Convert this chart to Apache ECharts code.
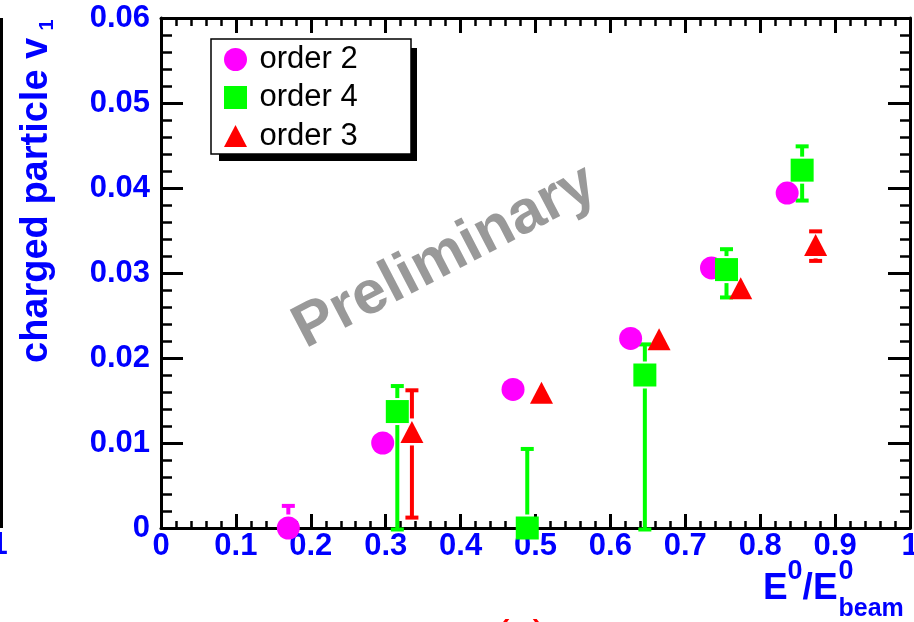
<!DOCTYPE html>
<html>
<head>
<meta charset="utf-8">
<script src="https://cdn.jsdelivr.net/npm/echarts@6/dist/echarts.min.js"></script>
<style>
  html, body { margin: 0; padding: 0; background: #fff; }
  #chart { width: 914px; height: 622px; }
</style>
</head>
<body>
<div id="chart"></div>
<script>
// ---------- data ----------
const xTicks = [0, 0.1, 0.2, 0.3, 0.4, 0.5, 0.6, 0.7, 0.8, 0.9, 1];
const yTicks = [0, 0.01, 0.02, 0.03, 0.04, 0.05, 0.06];

// order 2 (magenta circles)
const xOrder2  = [0.170, 0.296, 0.470, 0.627, 0.735, 0.836];
const yOrder2  = [0.0000, 0.0100, 0.0163, 0.0223, 0.0306, 0.0394];
const hiOrder2 = [0.0026, null, null, null, null, null];
const loOrder2 = [null, null, null, null, null, null];

// order 4 (green squares)
const xOrder4  = [0.3155, 0.489, 0.646, 0.755, 0.856];
const yOrder4  = [0.0137, 0.0000, 0.0180, 0.0304, 0.0421];
const hiOrder4 = [0.0167, 0.0093, 0.0216, 0.0328, 0.0449];
const loOrder4 = [0.0000, null, 0.0000, 0.0273, 0.0387];

// order 3 (red triangles)
const xOrder3  = [0.335, 0.508, 0.665, 0.774, 0.874];
const yOrder3  = [0.0113, 0.0159, 0.0222, 0.0282, 0.0333];
const hiOrder3 = [0.0162, null, null, null, 0.0349];
const loOrder3 = [0.0014, null, null, null, 0.0316];

const seriesNames = ['order 2', 'order 4', 'order 3'];

// ---------- helpers ----------
const FONT = '"Liberation Sans", Arial, Helvetica, sans-serif';
const BLUE = '#0000ff';
const MAG = '#ff00ff', GRN = '#00ff00', RED = '#ff0000';
const MARK = 23;

function pts(xs, ys) { return xs.map((x, i) => [x, ys[i]]); }
function errPts(xs, ys, hi, lo) {
  const out = [];
  xs.forEach((x, i) => {
    if (hi[i] == null && lo[i] == null) return;
    out.push([x, ys[i], hi[i] == null ? ys[i] : hi[i], lo[i] == null ? ys[i] : lo[i]]);
  });
  return out;
}
function errSeries(data, color) {
  return {
    type: 'custom',
    clip: false,
    data: data,
    encode: { x: 0, y: 1 },
    silent: true,
    renderItem: function (params, api) {
      const c = api.coord([api.value(0), api.value(1)]);
      const hi = api.coord([api.value(0), api.value(2)]);
      const lo = api.coord([api.value(0), api.value(3)]);
      const half = MARK / 2 + 2;
      const cap = 6.5;
      const st = { stroke: color, lineWidth: 4, lineCap: 'butt' };
      const ch = [];
      if (hi[1] < c[1] - half) {
        ch.push({ type: 'line', shape: { x1: c[0], y1: c[1] - half, x2: c[0], y2: hi[1] }, style: st });
        ch.push({ type: 'line', shape: { x1: c[0] - cap, y1: hi[1], x2: c[0] + cap, y2: hi[1] }, style: st });
      }
      if (lo[1] > c[1] + half) {
        ch.push({ type: 'line', shape: { x1: c[0], y1: c[1] + half, x2: c[0], y2: lo[1] }, style: st });
        ch.push({ type: 'line', shape: { x1: c[0] - cap, y1: lo[1] + 1.5, x2: c[0] + cap, y2: lo[1] + 1.5 }, style: st });
      }
      return { type: 'group', children: ch };
    }
  };
}

function axisCommon(tickLen, minorLen) {
  return {
    axisLine: { show: true, onZero: false, lineStyle: { color: '#000', width: 3 } },
    axisTick: { show: true, inside: true, length: tickLen, lineStyle: { color: '#000', width: 3 } },
    minorTick: { show: true, splitNumber: 5, length: minorLen, lineStyle: { color: '#000', width: 2.5 } },
    splitLine: { show: false },
    minorSplitLine: { show: false }
  };
}

const chart = echarts.init(document.getElementById('chart'), null, { renderer: 'canvas' });

const txt = (x, y, text, font, fill, align, extra) => Object.assign({
  type: 'text', x: x, y: y,
  style: { text: text, font: font, fill: fill, align: align, verticalAlign: 'middle', textAlign: align, textVerticalAlign: 'middle' }
}, extra || {});

const option = {
  backgroundColor: '#fff',
  animation: false,
  grid: { left: 161, right: 4, top: 18, bottom: 94, containLabel: false, outerBoundsMode: 'none' },
  xAxis: [
    Object.assign({
      type: 'value', position: 'bottom', min: xTicks[0], max: xTicks[xTicks.length - 1], interval: 0.1,
      axisLabel: {
        show: true, color: BLUE, fontSize: 31, fontWeight: 'bold', fontFamily: FONT, margin: 3,
        showMinLabel: true, showMaxLabel: true,
        formatter: v => { const t = xTicks.find(k => Math.abs(k - v) < 1e-9); return t === undefined ? '' : String(t); }
      }
    }, axisCommon(14, 7)),
    Object.assign({
      type: 'value', position: 'top', min: xTicks[0], max: xTicks[xTicks.length - 1], interval: 0.1,
      axisLabel: { show: false }
    }, axisCommon(15, 8))
  ],
  yAxis: [
    Object.assign({
      type: 'value', position: 'left', min: yTicks[0], max: yTicks[yTicks.length - 1], interval: 0.01,
      axisLabel: {
        show: true, color: BLUE, fontSize: 31, fontWeight: 'bold', fontFamily: FONT, margin: 11,
        showMinLabel: true, showMaxLabel: true,
        formatter: v => { const t = yTicks.find(k => Math.abs(k - v) < 1e-9); return t === undefined ? '' : (t === 0 ? '0' : t.toFixed(2)); }
      }
    }, axisCommon(22, 11)),
    Object.assign({
      type: 'value', position: 'right', min: yTicks[0], max: yTicks[yTicks.length - 1], interval: 0.01,
      axisLabel: { show: false }
    }, axisCommon(22, 10))
  ],
  series: [
    errSeries(errPts(xOrder2, yOrder2, hiOrder2, loOrder2), MAG),
    { name: seriesNames[0], type: 'scatter', clip: false, symbol: 'circle', symbolSize: MARK,
      itemStyle: { color: MAG, opacity: 1 }, data: pts(xOrder2, yOrder2) },
    errSeries(errPts(xOrder4, yOrder4, hiOrder4, loOrder4), GRN),
    { name: seriesNames[1], type: 'scatter', clip: false, symbol: 'rect', symbolSize: MARK,
      itemStyle: { color: GRN, opacity: 1 }, data: pts(xOrder4, yOrder4) },
    errSeries(errPts(xOrder3, yOrder3, hiOrder3, loOrder3), RED),
    { name: seriesNames[2], type: 'scatter', clip: false, symbol: 'triangle', symbolSize: [23, 22],
      itemStyle: { color: RED, opacity: 1 }, data: pts(xOrder3, yOrder3) }
  ],
  graphic: [
    // watermark
    txt(445, 257, 'Preliminary', 'bold 61px ' + FONT, '#999999', 'center', { rotation: 27.5 * Math.PI / 180, z: 1 }),
    // legend box with shadow
    { type: 'rect', z: 50, shape: { x: 219, y: 48, width: 198, height: 113 }, style: { fill: '#000' } },
    { type: 'rect', z: 51, shape: { x: 211, y: 39, width: 200, height: 115 }, style: { fill: '#fff', stroke: '#000', lineWidth: 1.5 } },
    { type: 'circle', z: 52, shape: { cx: 235.5, cy: 59.5, r: 11.5 }, style: { fill: MAG } },
    { type: 'rect', z: 52, shape: { x: 224, y: 86, width: 23, height: 23 }, style: { fill: GRN } },
    { type: 'polygon', z: 52, shape: { points: [[235.5, 125], [247, 147], [224, 147]] }, style: { fill: RED } },
    txt(259.5, 59.5, seriesNames[0], '31px ' + FONT, '#000', 'left', { z: 52 }),
    txt(259.5, 97.5, seriesNames[1], '31px ' + FONT, '#000', 'left', { z: 52 }),
    txt(259.5, 136, seriesNames[2], '31px ' + FONT, '#000', 'left', { z: 52 }),
    // y axis title
    txt(37, 363, 'charged particle v', 'bold 38px ' + FONT, BLUE, 'left', { rotation: Math.PI / 2 }),
    txt(47, 25, '1', 'bold 20px ' + FONT, BLUE, 'center', { rotation: Math.PI / 2 }),
    // x axis title  E^0/E^0_beam
    txt(763, 588.5, 'E', 'bold 37px ' + FONT, BLUE, 'left'),
    txt(787.5, 572, '0', 'bold 27px ' + FONT, BLUE, 'left'),
    txt(802.5, 588.5, '/', 'bold 37px ' + FONT, BLUE, 'left'),
    txt(813, 588.5, 'E', 'bold 37px ' + FONT, BLUE, 'left'),
    txt(838.5, 572, '0', 'bold 27px ' + FONT, BLUE, 'left'),
    txt(838.5, 609, 'beam', 'bold 25px ' + FONT, BLUE, 'left'),
    // panel label, mostly cut off at the bottom edge
    txt(521, 640, '(c)', '46px ' + FONT, RED, 'center'),
    // pieces of the neighbouring panel at the left edge
    { type: 'rect', shape: { x: 0, y: 18, width: 3, height: 510 }, style: { fill: '#000' } },
    txt(-1, 545, '1', 'bold 31px ' + FONT, BLUE, 'center')
  ]
};
chart.setOption(option);
</script>
</body>
</html>
